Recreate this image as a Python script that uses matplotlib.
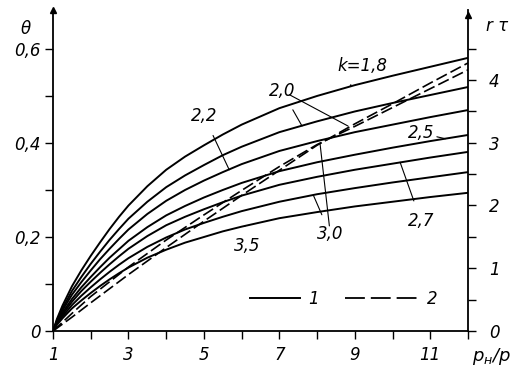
import matplotlib.pyplot as plt
from matplotlib.lines import Line2D

# pressure ratio p_н/p
x = [1, 1.1, 1.25, 1.5, 1.75, 2, 2.25, 2.5, 2.75, 3, 3.5, 4, 4.5, 5, 5.5, 6, 7, 8, 9, 10, 11, 12]

# theta curves (solid, left axis) for each k
theta_18 = [0, 0.025, 0.054, 0.095, 0.129, 0.160, 0.189, 0.217, 0.243, 0.267, 0.308, 0.343, 0.371, 0.395, 0.418, 0.439, 0.474, 0.500, 0.523, 0.543, 0.562, 0.581]
theta_20 = [0, 0.022, 0.048, 0.085, 0.115, 0.143, 0.169, 0.194, 0.217, 0.239, 0.275, 0.306, 0.331, 0.353, 0.374, 0.392, 0.423, 0.446, 0.467, 0.485, 0.502, 0.519]
theta_22 = [0, 0.020, 0.044, 0.077, 0.104, 0.129, 0.153, 0.175, 0.196, 0.216, 0.249, 0.277, 0.300, 0.320, 0.338, 0.355, 0.383, 0.404, 0.423, 0.439, 0.455, 0.470]
theta_25 = [0, 0.018, 0.039, 0.068, 0.093, 0.115, 0.136, 0.156, 0.174, 0.192, 0.221, 0.246, 0.266, 0.284, 0.300, 0.315, 0.340, 0.359, 0.375, 0.390, 0.404, 0.417]
theta_27 = [0, 0.016, 0.035, 0.062, 0.085, 0.105, 0.124, 0.142, 0.159, 0.175, 0.202, 0.225, 0.243, 0.259, 0.274, 0.288, 0.311, 0.328, 0.343, 0.356, 0.369, 0.381]
theta_30 = [0, 0.015, 0.031, 0.055, 0.075, 0.093, 0.110, 0.126, 0.141, 0.155, 0.179, 0.199, 0.216, 0.230, 0.243, 0.255, 0.275, 0.291, 0.304, 0.316, 0.327, 0.338]
theta_35 = [0, 0.013, 0.027, 0.048, 0.065, 0.081, 0.096, 0.110, 0.123, 0.135, 0.156, 0.173, 0.188, 0.200, 0.212, 0.222, 0.240, 0.253, 0.265, 0.275, 0.285, 0.294]
thetas = [theta_18, theta_20, theta_22, theta_25, theta_27, theta_30, theta_35]

# r*tau curves (dashed, right axis)
xd = [1, 1.5, 2, 3, 4, 5, 6, 7, 8, 9, 10, 11, 12]
rtau_20 = [0, 0.22, 0.45, 0.90, 1.33, 1.75, 2.16, 2.56, 2.96, 3.30, 3.62, 3.95, 4.27]
rtau_30 = [0, 0.28, 0.55, 1.02, 1.45, 1.85, 2.24, 2.62, 2.97, 3.26, 3.56, 3.86, 4.16]

xticks = list(range(1, 13))
xticklabels = ['1', '', '3', '', '5', '', '7', '', '9', '', '11', '']

fs = 12
plt.rcParams['font.family'] = 'DejaVu Sans'
plt.rcParams['font.style'] = 'italic'

fig = plt.figure(figsize=(5.2, 3.67), dpi=100)
ax = fig.add_axes([0.102, 0.098, 0.798, 0.875])
ax2 = ax.twinx()

for th in thetas:
    ax.plot(x, th, color='black', lw=1.4)
ax2.plot(xd, rtau_20, color='black', lw=1.2, dashes=(7, 2.5))
ax2.plot(xd, rtau_30, color='black', lw=1.2, dashes=(7, 2.5))

ax.set_xlim(1, 12)
ax.set_ylim(0, 0.683)
ax2.set_ylim(0, 5.115)

for a in (ax, ax2):
    a.spines['top'].set_visible(False)
    for s in a.spines.values():
        s.set_linewidth(1.3)
ax.spines['right'].set_visible(False)
ax2.spines['left'].set_visible(False)
ax2.spines['bottom'].set_visible(False)

ax.set_xticks(xticks)
ax.set_xticklabels(xticklabels, fontsize=fs)
ax.set_yticks([0, 0.2, 0.4, 0.6])
ax.set_yticklabels(['0', '0,2', '0,4', '0,6'], fontsize=fs)
ax.set_yticks([0.1, 0.3, 0.5], minor=True)
ax2.set_yticks([0, 1, 2, 3, 4])
ax2.set_yticklabels(['0', '1', '2', '3', '4'], fontsize=fs)
ax2.set_yticks([0.5, 1.5, 2.5, 3.5, 4.5], minor=True)
ax.tick_params(axis='x', length=6, width=1, pad=5)
ax.tick_params(axis='y', which='both', length=6, width=1, pad=3)
ax2.tick_params(axis='y', which='both', length=6, width=1, pad=9)

# axis arrows
ax.plot(1, 1, marker='^', color='black', ms=5, transform=ax.get_xaxis_transform(), clip_on=False)
ax.plot(12, 0.985, marker='^', color='black', ms=5, transform=ax.get_xaxis_transform(), clip_on=False)

ax.text(-0.065, 0.94, 'θ', transform=ax.transAxes, fontsize=fs, ha='center', va='center')
ax2.text(1.07, 0.95, 'r τ', transform=ax.transAxes, fontsize=fs, ha='center', va='center')
ax.text(1.01, -0.078, r'$p_{н}/p$', transform=ax.transAxes, fontsize=fs + 1, ha='left', va='center')

# curve labels with leaders
lab = dict(fontsize=fs, ha='center', va='center')
arr = dict(arrowstyle='-', color='black', lw=0.8, shrinkA=6, shrinkB=0)
ax.annotate('k=1,8', xy=(8.88, 0.522), xytext=(9.21, 0.564), arrowprops=arr, **lab)
ax.annotate('2,0', xy=(7.6, 0.436), xytext=(7.07, 0.511), arrowprops=arr, **lab)
ax.annotate('', xy=(8.82, 0.436), xytext=(7.07, 0.511), arrowprops=arr)
ax.annotate('2,2', xy=(5.67, 0.343), xytext=(5.0, 0.457), arrowprops=arr, **lab)
ax.annotate('2,5', xy=(11.4, 0.409), xytext=(10.75, 0.421),
            arrowprops=dict(arrowstyle='-', color='black', lw=0.8, shrinkA=12, shrinkB=0), **lab)
ax.annotate('2,7', xy=(10.2, 0.359), xytext=(10.75, 0.235), arrowprops=arr, **lab)
ax.annotate('3,0', xy=(7.9, 0.289), xytext=(8.35, 0.206), arrowprops=arr, **lab)
ax.annotate('', xy=(8.08, 0.397), xytext=(8.35, 0.206), arrowprops=arr)
ax.annotate('3,5', xy=(6.1, 0.224), xytext=(6.15, 0.181), arrowprops=arr, **lab)

# legend: 1 - solid, 2 - dashed
leg1 = ax.legend([Line2D([], [], color='black', lw=1.4)], ['1'], frameon=False, fontsize=fs,
                 loc='center left', bbox_to_anchor=(0.475, 0.1), borderpad=0,
                 borderaxespad=0, handlelength=3.0, handletextpad=0.5)
ax.add_artist(leg1)
ax.legend([Line2D([], [], color='black', lw=1.3, dashes=(11, 3.3))], ['2'], frameon=False, fontsize=fs,
          loc='center left', bbox_to_anchor=(0.704, 0.1), borderpad=0,
          borderaxespad=0, handlelength=4.3, handletextpad=0.6)

fig.savefig('out.png', dpi=100)
